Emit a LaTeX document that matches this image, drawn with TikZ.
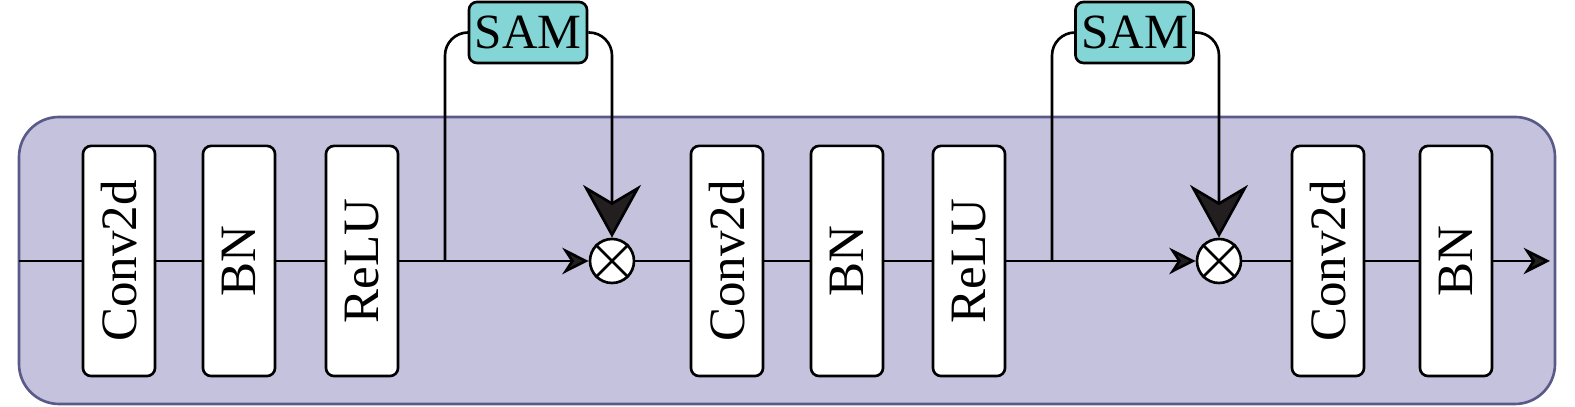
\documentclass[tikz,border=0pt]{standalone}
\usepackage{fontspec}
\setmainfont{Liberation Serif}
\usetikzlibrary{arrows.meta}
\definecolor{blockbg}{HTML}{C5C2DE}
\definecolor{blockedge}{HTML}{5A5A88}
\definecolor{samfill}{HTML}{84D6D6}
\definecolor{tipfill}{HTML}{231F20}

\begin{document}
\begin{tikzpicture}[x=0.01cm, y=0.01cm, line width=0.75pt,
    layer/.style={draw, fill=white, rounded corners=2.3pt, rotate=90, minimum width=2.3cm, minimum height=0.72cm, inner sep=0pt, font=\fontsize{14.5}{16}\selectfont},
    sam/.style={draw, fill=samfill, rounded corners=2.3pt, minimum width=1.18cm, minimum height=0.61cm, inner sep=0pt, font=\fontsize{14}{15}\selectfont},
    mult/.style={draw, fill=white, circle, minimum size=0.44cm, inner sep=0pt},
    small/.style={-{Stealth[length=7.5pt, width=7.5pt, fill=tipfill]}},
    big/.style={-{Stealth[length=15pt, width=16.5pt, fill=tipfill]}},
    link/.style={rounded corners=0.23cm}]
    \useasboundingbox (0,0) rectangle (1575,407);

    % Block
    \draw[blockedge, fill=blockbg, rounded corners=0.4cm] (19,3) rectangle (1555,290);

    % Layers
    \node[layer] (conv1) at (119,146) {Conv2d};
    \node[layer] (bn1) at (239,146) {BN};
    \node[layer] (relu1) at (362,146) {ReLU};
    \node[layer] (conv2) at (727,146) {Conv2d};
    \node[layer] (bn2) at (847,146) {BN};
    \node[layer] (relu2) at (969,146) {ReLU};
    \node[layer] (conv3) at (1328,146) {Conv2d};
    \node[layer] (bn3) at (1456,146) {BN};

    % Attention
    \node[sam] (sam1) at (528,374.5) {SAM};
    \node[sam] (sam2) at (1134.5,374.5) {SAM};
    \node[mult] (mul1) at (612,146) {};
    \node[mult] (mul2) at (1219,146) {};
    \draw (mul1.north west) -- (mul1.south east) (mul1.north east) -- (mul1.south west);
    \draw (mul2.north west) -- (mul2.south east) (mul2.north east) -- (mul2.south west);

    % Main line
    \coordinate (in) at (19,146);
    \coordinate (out) at (1550,146);
    \coordinate (br1) at (445,146);
    \coordinate (br2) at (1052,146);
    \draw (in) -- (conv1) -- (bn1) -- (relu1);
    \draw[small] (relu1) -- (mul1);
    \draw (mul1) -- (conv2) -- (bn2) -- (relu2);
    \draw[small] (relu2) -- (mul2);
    \draw (mul2) -- (conv3) -- (bn3);
    \draw[small] (bn3) -- (out);

    % Branches
    \draw[link] (br1) |- (sam1);
    \draw[link, big] (sam1) -| (mul1);
    \draw[link] (br2) |- (sam2);
    \draw[link, big] (sam2) -| (mul2);
\end{tikzpicture}
\end{document}
